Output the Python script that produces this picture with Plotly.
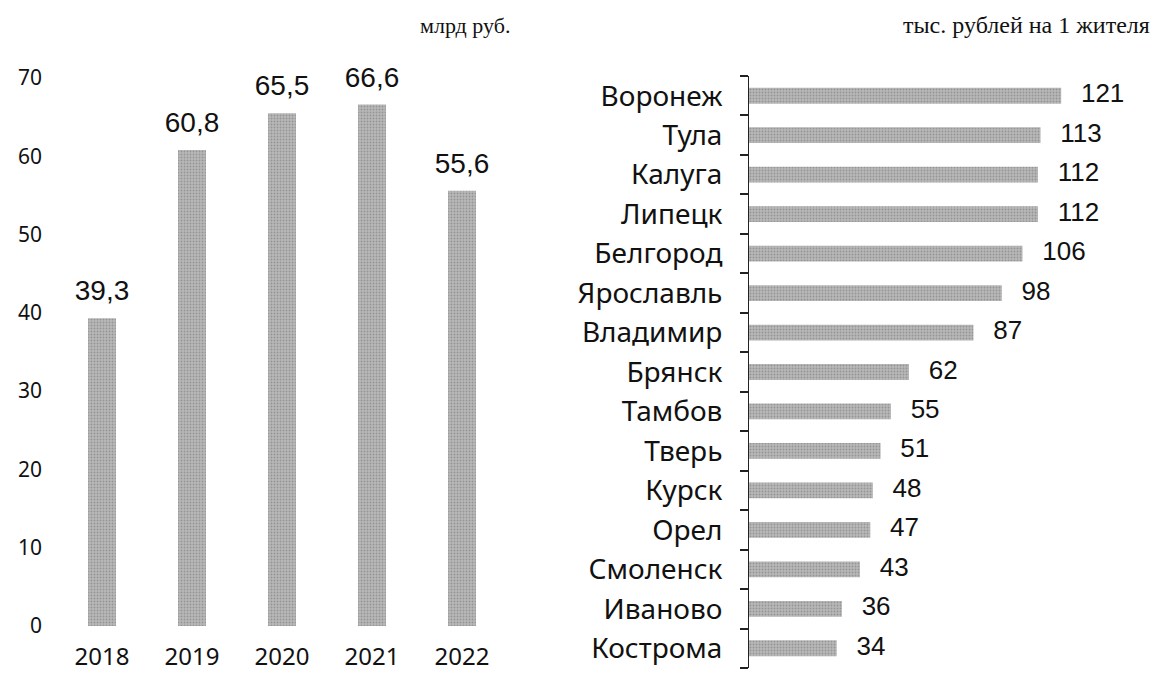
import plotly.graph_objects as go

# Left chart: billion rubles by year
years = ["2018", "2019", "2020", "2021", "2022"]
volumes = [39.3, 60.8, 65.5, 66.6, 55.6]
volume_labels = ["39,3", "60,8", "65,5", "66,6", "55,6"]
left_ticks = [0, 10, 20, 30, 40, 50, 60, 70]

# Right chart: thousand rubles per inhabitant
regions = ["Воронеж", "Тула", "Калуга", "Липецк", "Белгород", "Ярославль", "Владимир",
           "Брянск", "Тамбов", "Тверь", "Курск", "Орел", "Смоленск", "Иваново", "Кострома"]
per_capita = [121, 113, 112, 112, 106, 98, 87, 62, 55, 51, 48, 47, 43, 36, 34]

left_title = "млрд руб."
right_title = "тыс. рублей на 1 жителя"

W, H = 1158, 675
OFF = 8  # page offset compensation
bar_color = "#a6a6a6"
pattern = dict(shape=".", fgcolor="#707070", bgcolor="#b8b8b8", size=3, solidity=0.3)
sans = "Noto Sans"
arial = "Liberation Sans"
serif = "Liberation Serif"


def px(x):
    return (x - OFF) / W


def py(y):
    return (H - (y - OFF)) / H


fig = go.Figure()
fig.add_trace(go.Bar(
    x=years, y=volumes, xaxis="x", yaxis="y",
    marker=dict(color=bar_color, pattern=pattern, line=dict(width=0)),
    hoverinfo="skip", showlegend=False,
))
fig.add_trace(go.Scatter(
    x=years, y=volumes, xaxis="x", yaxis="y", mode="markers+text",
    text=volume_labels, textposition="top center",
    marker=dict(size=16, opacity=0), cliponaxis=False,
    textfont=dict(family=arial, size=28, color="#111"),
    hoverinfo="skip", showlegend=False,
))
fig.add_trace(go.Bar(
    x=per_capita, y=regions, orientation="h", xaxis="x2", yaxis="y2", width=0.4,
    marker=dict(color=bar_color, pattern=pattern, line=dict(width=0)),
    hoverinfo="skip", showlegend=False,
))
fig.add_trace(go.Scatter(
    x=per_capita, y=regions, xaxis="x2", yaxis="y2", mode="markers+text",
    text=[str(v) for v in per_capita], textposition="middle right",
    marker=dict(size=30, opacity=0), cliponaxis=False,
    textfont=dict(family=arial, size=26, color="#111"),
    hoverinfo="skip", showlegend=False,
))

annotations = [
    dict(x=px(465), y=py(25), xref="paper", yref="paper", text=left_title,
         showarrow=False, xanchor="center", yanchor="middle",
         font=dict(family=serif, size=22, color="#111")),
    dict(x=px(1152), y=py(25), xref="paper", yref="paper", text=right_title,
         showarrow=False, xanchor="right", yanchor="middle",
         font=dict(family=serif, size=24, color="#111")),
]

fig.update_layout(
    width=W, height=H, margin=dict(l=0, r=0, t=0, b=0, autoexpand=False),
    paper_bgcolor="white", plot_bgcolor="white",
    annotations=annotations,
    bargap=0.69,
    xaxis=dict(domain=[px(57), px(507)], type="category", categoryorder="array",
               categoryarray=years, range=[-0.5, 4.5], anchor="y", automargin=False,
               showline=False, showgrid=False, zeroline=False, ticks="",
               ticklabelstandoff=14,
               tickfont=dict(family=sans, size=24, color="#111"), fixedrange=True),
    yaxis=dict(domain=[py(626), py(78)], range=[0, 70], tickvals=left_ticks,
               anchor="x", automargin=False, showline=False, showgrid=False,
               zeroline=False, ticks="", ticklabelstandoff=14,
               tickfont=dict(family=sans, size=21, color="#111"), fixedrange=True),
    xaxis2=dict(domain=[px(749), 1.0], range=[0, (W + OFF - 749) / 2.58], anchor="y2",
                visible=False, automargin=False, fixedrange=True),
    yaxis2=dict(domain=[py(668), py(76)], anchor="x2", type="category",
                categoryorder="array", categoryarray=regions[::-1], range=[-0.5, 14.5],
                automargin=False,
                showline=True, linecolor="#222", linewidth=1, ticks="outside", ticklen=8,
                tickwidth=1.5, tickcolor="#222", tickson="boundaries", showgrid=False,
                zeroline=False, ticklabelstandoff=20,
                tickfont=dict(family=sans, size=28, color="#111"),
                fixedrange=True),
)

fig.write_html("out.html")
